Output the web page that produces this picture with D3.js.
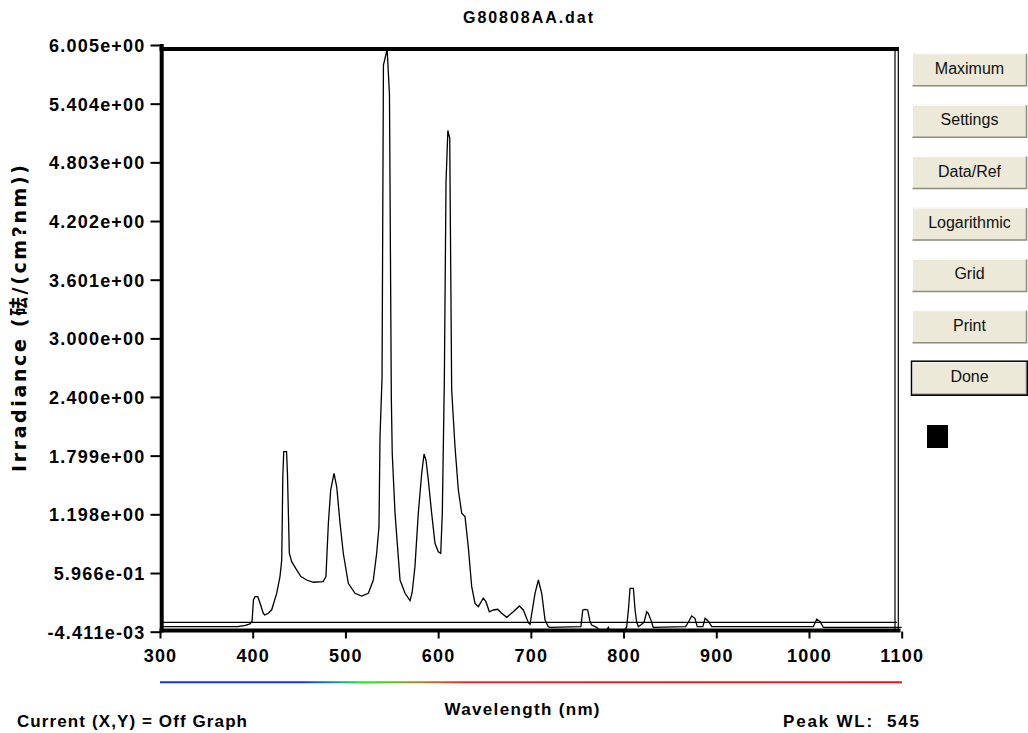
<!DOCTYPE html>
<html>
<head>
<meta charset="utf-8">
<script src="https://d3js.org/d3.v7.min.js"></script>
<style>
  body { margin: 0; background: #fff; }
  svg { font-family: "Liberation Sans", Arial, "Noto Sans CJK SC", sans-serif; }
  .lbl { font-weight: bold; fill: #000; }
  .axis text { font-weight: bold; font-size: 18px; letter-spacing: 1.2px; fill: #000; }
  .axis line { stroke: #000; stroke-width: 2; }
  .btn text { font-size: 16px; fill: #111; }
</style>
</head>
<body>
<script>

// spectrum: wavelength (nm) and irradiance
var wavelength = [300, 384, 392, 397, 399.3, 400.8, 402.5, 405.5, 407.5, 411.4, 413, 416.8, 420.5, 425.9, 429.4, 431.3,
  432.5, 433.5, 436.5, 437.5, 439.5, 442, 447.4, 452, 458.2, 465.4, 476, 479, 481.6, 484.1, 487.7, 490.6,
  494.2, 497.7, 503.1, 510.3, 517.5, 524.7, 530.1, 533.7, 536.2, 537.3, 539.5, 541, 545, 547.5, 549.5,
  550.5, 553.5, 558.9, 564.3, 569.7, 572, 575, 578.6, 582.3, 584.8, 586.9, 589.4, 593, 596.6, 600.2,
  602.8, 604.5, 606.7, 608.5, 610.5, 612.5, 613.5, 614.6, 618.2, 621.8, 625.4, 629, 632.5, 636.2, 639.8,
  643.3, 648.7, 651.6, 655.2, 659.5, 664.2, 668.5, 674, 681.1, 687.6, 691.9, 697.3, 699.1, 704.5, 708.1,
  711.7, 715.3, 718.8, 720.7, 754, 756, 758.4, 761.3, 763.8, 765.6, 771, 774, 782, 783.5, 785, 801,
  803.4, 805.2, 807, 810.6, 812.4, 814.2, 816, 822, 825, 826.7, 830.3, 832, 867, 869.8, 873.5, 877,
  879.5, 885.5, 888, 891.6, 895.1, 1004.7, 1008.3, 1011.9, 1015.5, 1100];
var irradiance = [0.047, 0.047, 0.06, 0.075, 0.1, 0.32, 0.354, 0.354, 0.3, 0.184, 0.167, 0.184, 0.22, 0.39, 0.56, 0.73,
  1.6, 1.84, 1.84, 1.6, 0.8, 0.713, 0.628, 0.56, 0.525, 0.502, 0.508, 0.56, 1.106, 1.447, 1.618, 1.48,
  1.106, 0.799, 0.491, 0.389, 0.361, 0.389, 0.525, 0.799, 1.07, 1.99, 2.6, 5.8, 5.96, 5.5, 2.4,
  1.82, 1.21, 0.525, 0.389, 0.313, 0.4, 0.662, 1.21, 1.618, 1.816, 1.754, 1.55, 1.21, 0.901, 0.815,
  0.799, 1.21, 2.57, 4.6, 5.13, 5.05, 3.8, 2.47, 1.89, 1.447, 1.21, 1.174, 0.866, 0.457, 0.286,
  0.252, 0.338, 0.303, 0.2, 0.218, 0.225, 0.184, 0.143, 0.2, 0.259, 0.218, 0.088, 0.071, 0.389, 0.525,
  0.389, 0.116, 0.047, 0.04, 0.047, 0.218, 0.225, 0.218, 0.1, 0.064, 0.04, 0.01, 0.01, 0.04, 0.01, 0.01,
  0.047, 0.218, 0.44, 0.44, 0.218, 0.092, 0.047, 0.09, 0.2, 0.184, 0.092, 0.04, 0.047, 0.092, 0.157, 0.133,
  0.047, 0.047, 0.133, 0.1, 0.047, 0.047, 0.123, 0.1, 0.04, 0.04];

var xTicks = [300, 400, 500, 600, 700, 800, 900, 1000, 1100];
var yTicks = [-0.004411, 0.5966, 1.198, 1.799, 2.400, 3.000, 3.601, 4.202, 4.803, 5.404, 6.005];
var yTickLabels = ["-4.411e-03", "5.966e-01", "1.198e+00", "1.799e+00", "2.400e+00", "3.000e+00",
  "3.601e+00", "4.202e+00", "4.803e+00", "5.404e+00", "6.005e+00"];
var buttons = ["Maximum", "Settings", "Data/Ref", "Logarithmic", "Grid", "Print", "Done"];

var svg = d3.select("body").append("svg")
    .attr("width", 1028)
    .attr("height", 733);

var x = d3.scaleLinear().domain([300, 1100]).range([160, 901.7]);
var y = d3.scaleLinear().domain([-0.004411, 6.005]).range([631.7, 45]);

// title
svg.append("text").attr("class", "lbl")
    .attr("x", 528).attr("y", 23)
    .attr("text-anchor", "middle")
    .style("font-size", "16px")
    .attr("textLength", 130).attr("lengthAdjust", "spacing")
    .text("G80808AA.dat");

// frame
var frame = svg.append("g");
frame.append("line").attr("x1", 895).attr("x2", 895).attr("y1", 49).attr("y2", 630)
    .attr("stroke", "#000").attr("stroke-width", 1.2);
frame.append("line").attr("x1", 898.3).attr("x2", 898.3).attr("y1", 47).attr("y2", 630)
    .attr("stroke", "#000").attr("stroke-width", 1.2);
frame.append("line").attr("x1", 161).attr("x2", 897).attr("y1", 622.3).attr("y2", 622.3)
    .attr("stroke", "#000").attr("stroke-width", 1.2);

// spectrum
var pts = wavelength.map(function(w, i) { return [w, irradiance[i]]; });
var line = d3.line().x(function(d) { return x(d[0]); }).y(function(d) { return y(d[1]); });
svg.append("path")
    .datum(pts)
    .attr("d", line)
    .attr("fill", "none")
    .attr("stroke", "#000")
    .attr("stroke-width", 1.3);

frame.append("line").attr("x1", 159.5).attr("x2", 898.8).attr("y1", 49).attr("y2", 49)
    .attr("stroke", "#000").attr("stroke-width", 4);
frame.append("line").attr("x1", 161.7).attr("x2", 161.7).attr("y1", 44).attr("y2", 632.5)
    .attr("stroke", "#000").attr("stroke-width", 4);
frame.raise();

// axes
var yAxis = d3.axisLeft(y)
    .tickValues(yTicks)
    .tickFormat(function(d, i) { return yTickLabels[i]; })
    .tickSize(10).tickPadding(6).tickSizeOuter(0);
var gy = svg.append("g").attr("class", "axis").attr("transform", "translate(160.5,0)").call(yAxis);
gy.select(".domain").remove();
gy.selectAll("text").attr("dy", "0.36em").attr("dx", "1px");

var xAxis = d3.axisBottom(x).tickValues(xTicks).tickFormat(d3.format("d")).tickSize(7).tickSizeOuter(0);
var gx = svg.append("g").attr("class", "axis").attr("transform", "translate(0,631.5)").call(xAxis);
gx.select(".domain").remove();
gx.selectAll("text").attr("y", 30.5).attr("dy", null);
gx.selectAll("line").attr("stroke-width", 2.5);

svg.append("line").attr("x1", 159.5).attr("x2", 900.5).attr("y1", 630.5).attr("y2", 630.5)
    .attr("stroke", "#000").attr("stroke-width", 4);

// spectrum colour bar under the axis
var grad = svg.append("defs").append("linearGradient")
    .attr("id", "spec").attr("gradientUnits", "userSpaceOnUse")
    .attr("x1", 160).attr("x2", 902).attr("y1", 0).attr("y2", 0);
[[0, "#1530ff"], [0.19, "#1530ff"], [0.24, "#1a9aa0"], [0.275, "#10ff10"],
 [0.35, "#a88a22"], [0.415, "#ff2020"], [1, "#ff1010"]].forEach(function(s) {
  grad.append("stop").attr("offset", s[0]).attr("stop-color", s[1]);
});
svg.append("line").attr("x1", 160).attr("x2", 902).attr("y1", 682.3).attr("y2", 682.3)
    .attr("stroke", "url(#spec)").attr("stroke-width", 2);

// labels
svg.append("text").attr("class", "lbl")
    .attr("x", 522).attr("y", 715).attr("text-anchor", "middle")
    .style("font-size", "17px")
    .attr("textLength", 155).attr("lengthAdjust", "spacing")
    .text("Wavelength (nm)");

svg.append("text").attr("class", "lbl")
    .attr("x", 17).attr("y", 727)
    .style("font-size", "17px")
    .attr("textLength", 230).attr("lengthAdjust", "spacing")
    .text("Current (X,Y) = Off Graph");

svg.append("text").attr("class", "lbl")
    .attr("x", 783).attr("y", 727)
    .style("font-size", "17px")
    .attr("textLength", 136).attr("lengthAdjust", "spacing")
    .style("white-space", "pre")
    .text("Peak WL:  545");

svg.append("text").attr("class", "lbl")
    .attr("transform", "translate(26,318.5) rotate(-90)")
    .attr("text-anchor", "middle")
    .style("font-family", "'DejaVu Sans', 'Noto Sans CJK SC', sans-serif")
    .style("font-size", "19px")
    .attr("textLength", 307).attr("lengthAdjust", "spacing")
    .text("Irradiance (砝/(cm?nm))");

// buttons
var btn = svg.selectAll(".btn")
    .data(buttons)
  .enter().append("g")
    .attr("class", "btn")
    .attr("transform", function(d, i) { return "translate(912," + (53.3 + i * 51.4) + ")"; });

btn.append("rect").attr("width", 115).attr("height", 33).attr("fill", "#ece9d8");
btn.append("path").attr("d", "M0.5,32.5V0.5H114.5").attr("fill", "none").attr("stroke", "#fff");
btn.append("path").attr("d", "M0.5,32.5H114.5V0.5").attr("fill", "none").attr("stroke", "#8f8c80").attr("stroke-width", 1.5);
btn.filter(function(d) { return d === "Done"; }).append("rect")
    .attr("x", -0.5).attr("y", -0.5).attr("width", 116).attr("height", 34)
    .attr("fill", "none").attr("stroke", "#000").attr("stroke-width", 1.5);
btn.append("text")
    .attr("x", 57.5).attr("y", 20.5)
    .attr("text-anchor", "middle")
    .text(function(d) { return d; });

svg.append("rect")
    .attr("x", 927).attr("y", 425).attr("width", 21).attr("height", 23)
    .attr("fill", "#000");

</script>
</body>
</html>
